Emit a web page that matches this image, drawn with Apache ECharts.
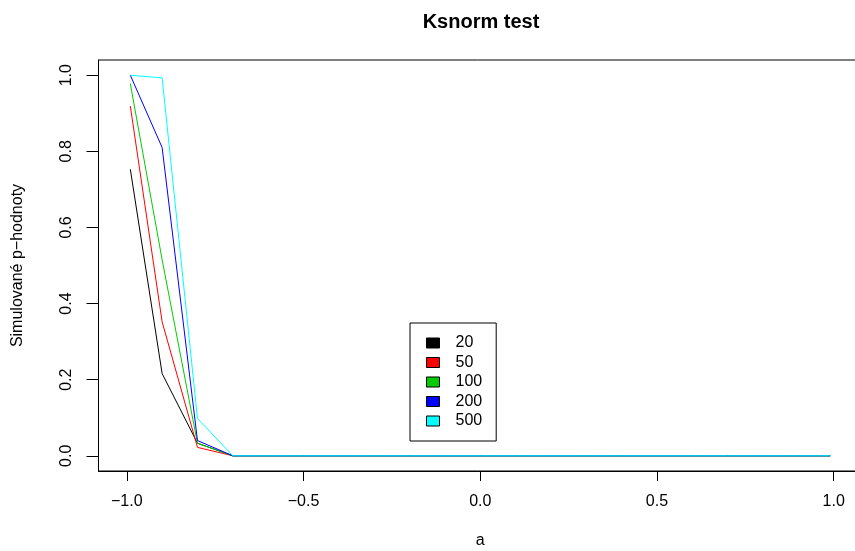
<!DOCTYPE html>
<html>
<head>
<meta charset="utf-8">
<script src="https://cdn.jsdelivr.net/npm/echarts@6/dist/echarts.min.js"></script>
<style>html,body{margin:0;padding:0;background:#fff}#c{width:855px;height:551px}</style>
</head>
<body>
<div id="c"></div>
<script>
const aValues = [-0.99, -0.9, -0.8, -0.7, -0.6, -0.5, -0.4, -0.3, -0.2, -0.1, 0, 0.1, 0.2, 0.3, 0.4, 0.5, 0.6, 0.7, 0.8, 0.9, 0.99];
const p20  = [0.753, 0.216, 0.033, 0, 0, 0, 0, 0, 0, 0, 0, 0, 0, 0, 0, 0, 0, 0, 0, 0, 0];
const p50  = [0.919, 0.352, 0.022, 0, 0, 0, 0, 0, 0, 0, 0, 0, 0, 0, 0, 0, 0, 0, 0, 0, 0];
const p100 = [0.978, 0.515, 0.033, 0, 0, 0, 0, 0, 0, 0, 0, 0, 0, 0, 0, 0, 0, 0, 0, 0, 0];
const p200 = [1.0, 0.81, 0.040, 0, 0, 0, 0, 0, 0, 0, 0, 0, 0, 0, 0, 0, 0, 0, 0, 0, 0];
const p500 = [1.0, 0.993, 0.098, 0, 0, 0, 0, 0, 0, 0, 0, 0, 0, 0, 0, 0, 0, 0, 0, 0, 0];
const seriesNames = ['20', '50', '100', '200', '500'];
const seriesColors = ['#000000', '#FF0000', '#00CD00', '#0000FF', '#00FFFF'];
const xTicks = [-1.0, -0.5, 0.0, 0.5, 1.0];
const yTicks = [0.0, 0.2, 0.4, 0.6, 0.8, 1.0];

const allValues = [p20, p50, p100, p200, p500];
const font = '"Liberation Sans", Arial, Helvetica, sans-serif';
const fmt = v => (v < 0 ? '\u2212' : '') + Math.abs(v).toFixed(1);

const chart = echarts.init(document.getElementById('c'), null, {renderer: 'canvas'});
chart.setOption({
  animation: false,
  backgroundColor: '#fff',
  title: {
    text: 'Ksnorm test',
    left: 476, top: 7, textAlign: 'center',
    textStyle: {fontFamily: font, fontSize: 20, fontWeight: 'bold', color: '#000'}
  },
  grid: {left: 98.5, top: 60, right: -7, bottom: 80, outerBoundsMode: 'none', containLabel: false,
         show: true, borderColor: '#000', borderWidth: 1, backgroundColor: 'transparent'},
  xAxis: {
    type: 'value', min: -1.08, max: 1.08,
    name: 'a', nameLocation: 'middle', nameGap: 62,
    nameTextStyle: {fontFamily: font, fontSize: 16, color: '#000'},
    axisLine: {show: true, onZero: false, lineStyle: {color: '#000', width: 1}},
    axisTick: {show: true, length: 10, customValues: xTicks, lineStyle: {color: '#000'}},
    axisLabel: {customValues: xTicks, formatter: fmt, margin: 23, fontFamily: font, fontSize: 16, color: '#000'},
    splitLine: {show: false}
  },
  yAxis: {
    type: 'value', min: -0.04, max: 1.04,
    name: 'Simulovan\u00e9 p\u2212hodnoty', nameLocation: 'middle', nameGap: 73, nameRotate: 90,
    nameTextStyle: {fontFamily: font, fontSize: 16, color: '#000'},
    axisLine: {show: true, onZero: false, lineStyle: {color: '#000', width: 1}},
    axisTick: {show: true, length: 12, customValues: yTicks, lineStyle: {color: '#000'}},
    axisLabel: {customValues: yTicks, formatter: fmt, rotate: 90, margin: 24, fontFamily: font, fontSize: 16, color: '#000'},
    splitLine: {show: false}
  },
  legend: {
    data: seriesNames,
    orient: 'vertical', left: 410, top: 323,
    icon: 'rect', itemWidth: 13, itemHeight: 10, itemGap: 3.5,
    borderColor: '#000', borderWidth: 1, padding: [12, 14, 12, 16],
    backgroundColor: '#fff',
    itemStyle: {borderColor: '#000', borderWidth: 1},
    textStyle: {fontFamily: font, fontSize: 16, color: '#000', padding: [0, 0, 0, 11]}
  },
  series: seriesNames.map((n, i) => ({
    name: n, type: 'line',
    data: aValues.map((a, j) => [a, allValues[i][j]]),
    showSymbol: false, symbol: 'none',
    color: seriesColors[i],
    lineStyle: {color: seriesColors[i], width: 1},
    itemStyle: {color: seriesColors[i]},
    z: 2 + i
  }))
});
</script>
</body>
</html>
